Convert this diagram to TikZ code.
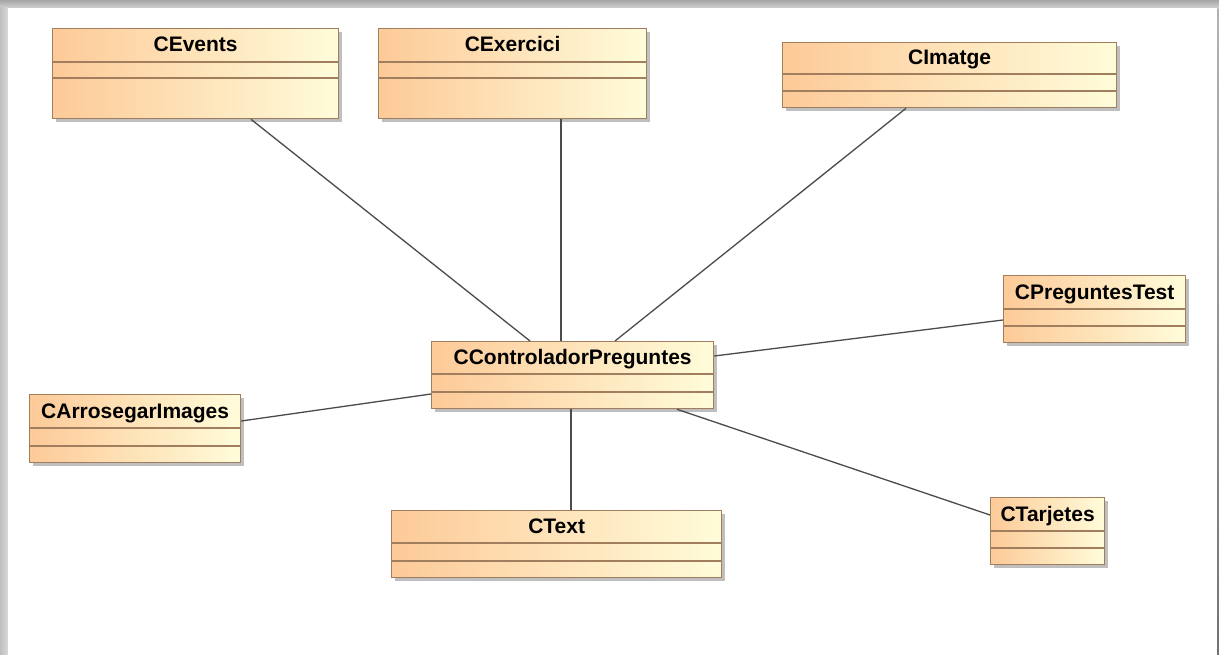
\documentclass[tikz,border=0pt]{standalone}
\usepackage{fontspec}
\setmainfont{Liberation Sans}
\usetikzlibrary{shadows}
\definecolor{boxleft}{RGB}{253,202,152}
\definecolor{boxright}{RGB}{255,252,218}
\definecolor{boxborder}{RGB}{160,126,94}
\definecolor{linkcol}{RGB}{75,75,75}
\tikzset{
  umlbox/.style={draw=boxborder, line width=1.3pt, left color=boxleft, right color=boxright,
    inner sep=0pt, anchor=north west,
    drop shadow={shadow xshift=3.5pt, shadow yshift=-3.5pt, fill=black!45, opacity=0.55}},
  umlsep/.style={draw=boxborder, line width=1.3pt},
  umltitle/.style={font=\bfseries\fontsize{21}{24}\selectfont, anchor=base, inner sep=0pt, text=black},
  link/.style={draw=linkcol, line width=1.3pt}
}
% \umlcls{name}{x1}{y1}{x2}{y2}{sep1}{sep2}{title}
\newcommand\umlcls[8]{%
  \node[umlbox, minimum width=#4pt-#2pt, minimum height=#5pt-#3pt] (#1) at (#2,#3) {};
  \draw[umlsep] (#1.west |- 0,#6) -- (#1.east |- 0,#6);
  \draw[umlsep] (#1.west |- 0,#7) -- (#1.east |- 0,#7);
  \node[umltitle] (#1t) at ($(#1.north)!0.5!(#1.north |- 0,#6)+(0,7)$) {#8};
}
\usetikzlibrary{calc}
\begin{document}
\begin{tikzpicture}[x=1pt,y=-1pt]
\useasboundingbox (0,0) rectangle (1219,655);
% page frame
\fill[black!22] (0,0) rectangle (1219,655);
\shade[top color=black!35, bottom color=black!18] (0,0) rectangle (1219,8);
\shade[left color=black!25, right color=black!15] (0,8) rectangle (8,655);
\fill[white] (8,8) rectangle (1217,655);
\shade[top color=black!30, bottom color=black!55] (1217,10) rectangle (1219,655);

\umlcls{cev}{52}{28}{338}{118}{62}{78}{CEvents}
\umlcls{cex}{378}{28}{646}{118}{62}{78}{CExercici}
\umlcls{cim}{782}{42}{1116}{107}{74}{91}{CImatge}
\umlcls{cpt}{1003}{275}{1185}{342}{309}{326}{CPreguntesTest}
\umlcls{ccp}{431}{341}{713}{408}{374}{392}{CControladorPreguntes}
\umlcls{car}{29}{394}{240}{462}{428}{446}{CArrosegarImages}
\umlcls{ctx}{391}{510}{721}{577}{543}{561}{CText}
\umlcls{ctj}{990}{497}{1104}{564}{531}{548}{CTarjetes}

\draw[link] ([xshift=199pt]cev.south west) -- ([xshift=99pt]ccp.north west);
\draw[link] ([xshift=183pt]cex.south west) -- ([xshift=130pt]ccp.north west);
\draw[link] ([xshift=124pt]cim.south west) -- ([xshift=184pt]ccp.north west);
\draw[link] ([yshift=-45pt]cpt.north west) -- ([yshift=-15pt]ccp.north east);
\draw[link] ([yshift=-27pt]car.north east) -- ([yshift=-53pt]ccp.north west);
\draw[link] ([xshift=140pt]ccp.south west) -- ([xshift=180pt]ctx.north west);
\draw[link] ([xshift=246pt]ccp.south west) -- ([yshift=-18pt]ctj.north west);
\end{tikzpicture}
\end{document}
